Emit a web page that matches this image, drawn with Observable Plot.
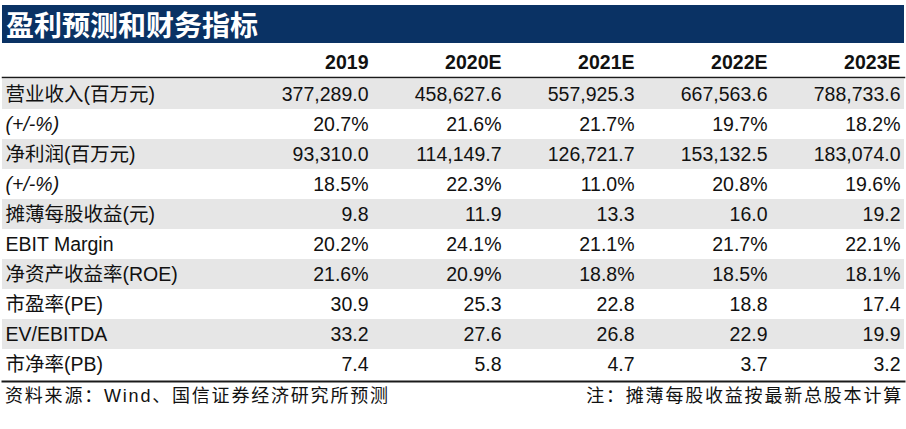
<!DOCTYPE html>
<html>
<head>
<meta charset="utf-8">
<script src="https://cdn.jsdelivr.net/npm/d3@7"></script>
<script src="https://cdn.jsdelivr.net/npm/@observablehq/plot@0.6"></script>
<style>
  body { margin: 0; background: #fff; }
  #wrap { width: 906px; }
  #title {
    margin: 5px 2px 0 2px; height: 38px; background: #0a3264; color: #fff;
    font: bold 28px "Noto Sans CJK SC", sans-serif; line-height: 38px; padding-left: 4px;
    box-sizing: border-box; white-space: nowrap;
  }
  #chart svg { display: block; }
  #foot {
    display: flex; justify-content: space-between; height: 26px; line-height: 26px;
    padding: 0 3px 0 5px; font-size: 18px; letter-spacing: 1.8px; color: #111;
    font-family: "Liberation Sans", Arial, "Noto Sans CJK SC", sans-serif; white-space: nowrap;
  }
</style>
</head>
<body>
<div id="wrap">
  <div id="title">盈利预测和财务指标</div>
  <div id="chart"></div>
  <div id="foot"><span id="source"></span><span id="note"></span></div>
</div>
<script>
const titleText = "盈利预测和财务指标";
const sourceText = "资料来源：Wind、国信证券经济研究所预测";
const noteText = "注：摊薄每股收益按最新总股本计算";

const years = ["2019", "2020E", "2021E", "2022E", "2023E"];
const rowLabels = [
  "营业收入(百万元)", "(+/-%)", "净利润(百万元)", "(+/-%)", "摊薄每股收益(元)",
  "EBIT Margin", "净资产收益率(ROE)", "市盈率(PE)", "EV/EBITDA", "市净率(PB)"
];
const rowFormats = ["num", "pct", "num", "pct", "num", "pct", "pct", "num", "num", "num"];

const revenue = [377289.0, 458627.6, 557925.3, 667563.6, 788733.6];
const revenueGrowth = [20.7, 21.6, 21.7, 19.7, 18.2];
const netProfit = [93310.0, 114149.7, 126721.7, 153132.5, 183074.0];
const netProfitGrowth = [18.5, 22.3, 11.0, 20.8, 19.6];
const eps = [9.8, 11.9, 13.3, 16.0, 19.2];
const ebitMargin = [20.2, 24.1, 21.1, 21.7, 22.1];
const roe = [21.6, 20.9, 18.8, 18.5, 18.1];
const pe = [30.9, 25.3, 22.8, 18.8, 17.4];
const evEbitda = [33.2, 27.6, 26.8, 22.9, 19.9];
const pb = [7.4, 5.8, 4.7, 3.7, 3.2];

const series = [revenue, revenueGrowth, netProfit, netProfitGrowth, eps, ebitMargin, roe, pe, evEbitda, pb];

const fmtNum = d3.format(",.1f");
const fmtPct = v => d3.format(".1f")(v) + "%";

const rows = rowLabels.map((label, i) => ({row: i, label, italic: label === "(+/-%)"}));
const cells = series.flatMap((vals, i) => vals.map((v, j) => ({
  row: i, year: years[j], text: rowFormats[i] === "pct" ? fmtPct(v) : fmtNum(v)
})));

document.getElementById("title").textContent = titleText;
document.getElementById("source").textContent = sourceText;
document.getElementById("note").textContent = noteText;

const FS = 19.5;
const chart = Plot.plot({
  width: 906,
  height: 340,
  marginTop: 34,
  marginBottom: 2,
  marginLeft: 2,
  marginRight: 2,
  x: {type: "point", domain: years, range: [366, 901], padding: 0, axis: null},
  y: {type: "band", domain: d3.range(rowLabels.length), padding: 0, axis: null},
  style: {
    fontFamily: "'Liberation Sans', Arial, 'Noto Sans CJK SC', sans-serif",
    color: "#111", background: "#fff", overflow: "visible"
  },
  marks: [
    Plot.cell(rows.filter(d => d.row % 2 === 0), {y: "row", fill: "#e6e6e6"}),
    Plot.frame({anchor: "top", stroke: "#1a1a1a", strokeWidth: 1.5}),
    Plot.frame({anchor: "bottom", stroke: "#1a1a1a", strokeWidth: 2}),
    Plot.text(years, {
      x: d => d, text: d => d, frameAnchor: "top", lineAnchor: "bottom", dy: -9,
      textAnchor: "end", fontSize: FS, fontWeight: "bold", fill: "#111"
    }),
    Plot.text(rows.filter(d => !d.italic), {
      y: "row", text: "label", frameAnchor: "left", textAnchor: "start", dx: 3,
      fontSize: FS, fill: "#111"
    }),
    Plot.text(rows.filter(d => d.italic), {
      y: "row", text: "label", frameAnchor: "left", textAnchor: "start", dx: 3,
      fontSize: FS, fontStyle: "italic", fill: "#111"
    }),
    Plot.text(cells, {
      x: "year", y: "row", text: "text", textAnchor: "end", fontSize: FS, fill: "#111"
    })
  ]
});
document.getElementById("chart").append(chart);
</script>
</body>
</html>
